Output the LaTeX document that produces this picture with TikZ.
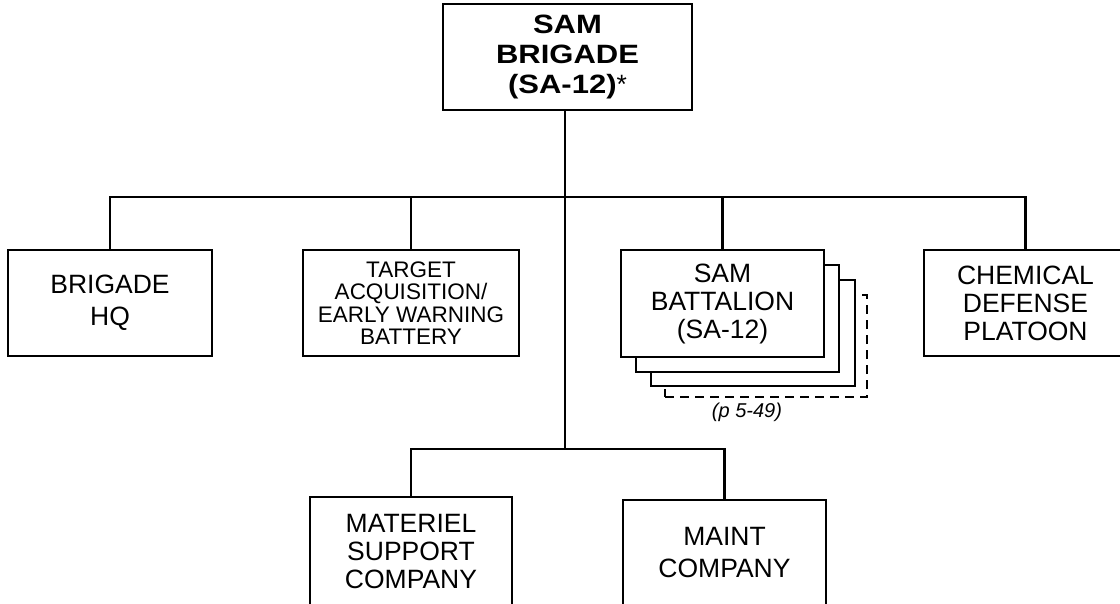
\documentclass[tikz,border=0pt]{standalone}
\usepackage{fontspec}
\setmainfont{Liberation Sans}
\newfontfamily\widefont{Liberation Sans}[FakeStretch=1.17]
\usetikzlibrary{positioning,calc}

\begin{document}
\begin{tikzpicture}[
    x=1pt, y=1pt,
    unit/.style={rectangle, draw, line width=2.6pt, fill=white, minimum width=203pt,
                 minimum height=106pt, align=center, inner sep=0pt,
                 font=\fontsize{26.5}{28}\selectfont},
    twoline/.style={unit, font=\fontsize{26.5}{32}\selectfont},
    hqbox/.style={unit, minimum width=249pt, font=\widefont\bfseries\fontsize{26.5}{30}\selectfont},
    ghost/.style={rectangle, draw, line width=1.3pt, dash pattern=on 9pt off 6pt,
                  minimum width=202pt, minimum height=102pt, inner sep=0pt},
    note/.style={font=\itshape\fontsize{20}{22}\selectfont, inner sep=0pt},
    link/.style={line width=2.2pt},
]
    \useasboundingbox (0,0) rectangle (1120,-604);
    \clip (0,0) rectangle (1120,-604);

    % brigade
    \node[hqbox] (top) at (567.5,-57)
        {SAM\\BRIGADE\\(SA-12){\normalfont\mdseries\fontsize{26.5}{30}\selectfont*}};

    % first echelon
    \node[twoline, minimum width=204pt] (hq) at (110,-303) {BRIGADE\\HQ};
    \node[unit, minimum width=216pt, font=\fontsize{22.5}{22.5}\selectfont] (ta) at (411,-303)
        {TARGET\\ACQUISITION/\\EARLY WARNING\\BATTERY};

    % battalions, stacked
    \node[ghost, fill=white] (bnx) at (766,-346) {};
    \node[unit, minimum width=204pt] (bn3) at (753,-333) {};
    \node[unit, minimum height=107pt] (bn2) at (737.5,-318.5) {};
    \node[unit, minimum height=107pt] (bn) at (722.5,-303.5) {SAM\\BATTALION\\(SA-12)};
    \node[note, anchor=north] (ref) at (747,-403) {(p 5-49)};

    \node[unit] (chem) at (1025.5,-303) {CHEMICAL\\DEFENSE\\PLATOON};

    % support
    \node[unit, minimum width=202pt, minimum height=110pt] (mat) at (411,-552)
        {MATERIEL\\SUPPORT\\COMPANY};
    \node[twoline] (maint) at (724.5,-553) {MAINT\\COMPANY};

    \coordinate (bus) at (565,-197);
    \coordinate (lowbus) at (565,-449);

    \draw[link] (bus |- top.south) -- (lowbus);
    \draw[link] (hq.north) |- (bus) -| (chem.north);
    \draw[link] (ta.north) -- (ta.north |- bus);
    \draw[link] (bn.north) -- (bn.north |- bus);
    \draw[link] (mat.north) |- (lowbus) -| (maint.north);
\end{tikzpicture}
\end{document}
